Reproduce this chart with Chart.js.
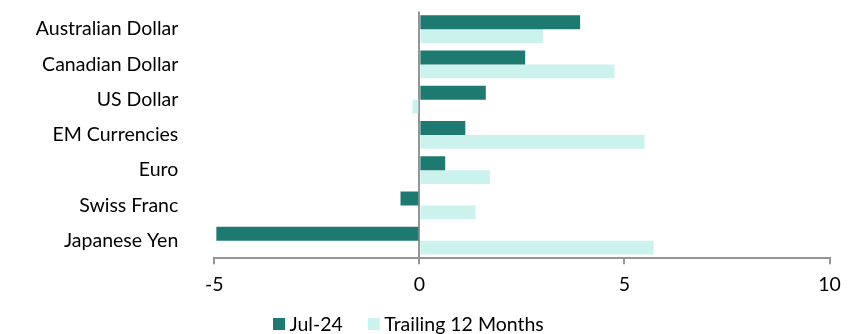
<!DOCTYPE html>
<html>
<head>
<meta charset="utf-8">
<script src="https://cdn.jsdelivr.net/npm/chart.js@4/dist/chart.umd.min.js"></script>
<style>
  html, body { margin: 0; padding: 0; background: #ffffff; }
  #wrap { width: 852px; height: 334px; position: relative; }
</style>
</head>
<body>
<div id="wrap"><canvas id="chart"></canvas></div>
<script>
// Currency returns (%)
const currencies = ["Australian Dollar", "Canadian Dollar", "US Dollar", "EM Currencies", "Euro", "Swiss Franc", "Japanese Yen"];
const monthReturns = [3.92, 2.58, 1.62, 1.12, 0.63, -0.46, -4.95];
const trailing12Returns = [3.01, 4.76, -0.17, 5.49, 1.72, 1.37, 5.71];
const xTicks = [-5, 0, 5, 10];

const FONT = "Lato, 'Open Sans', sans-serif";
const FONT_SIZE = 19.5;
const AXIS_GREY = "#959595";

// Compact legend below the axis: square swatch, tight gap, label text
const bottomLegend = {
  id: "bottomLegend",
  afterDraw(chart) {
    const ctx = chart.ctx;
    const box = 12, gap = 4.5, spacing = 25;
    const cy = 324;
    let x = 273;
    ctx.save();
    ctx.font = FONT_SIZE + "px " + FONT;
    ctx.textBaseline = "middle";
    ctx.textAlign = "left";
    chart.data.datasets.forEach((ds) => {
      ctx.fillStyle = ds.backgroundColor;
      ctx.fillRect(x, cy - box / 2, box, box);
      x += box + gap;
      ctx.fillStyle = "#000";
      ctx.fillText(ds.label, x, cy + 1);
      x += ctx.measureText(ds.label).width + spacing;
    });
    ctx.restore();
  }
};

new Chart(document.getElementById("chart"), {
  type: "bar",
  data: {
    labels: currencies,
    datasets: [
      { label: "Jul-24", data: monthReturns, backgroundColor: "#1e7a70",
        categoryPercentage: 0.79, barPercentage: 1.0 },
      { label: "Trailing 12 Months", data: trailing12Returns, backgroundColor: "#ccf2ee",
        categoryPercentage: 0.79, barPercentage: 1.0 }
    ]
  },
  plugins: [bottomLegend],
  options: {
    indexAxis: "y",
    responsive: true,
    maintainAspectRatio: false,
    animation: false,
    layout: { padding: { top: 11.5, right: 22.5, bottom: 0, left: 0 } },
    plugins: {
      tooltip: { enabled: false },
      legend: { display: false }
    },
    scales: {
      x: {
        min: -5,
        max: 10,
        z: 1,
        afterBuildTicks: (scale) => { scale.ticks = xTicks.map(v => ({ value: v })); },
        afterFit: (scale) => { scale.height = 75.7; },
        ticks: { font: { family: FONT, size: FONT_SIZE }, color: "#000", padding: 9 },
        grid: {
          color: (ctx) => (ctx.tick && ctx.tick.value === 0) ? AXIS_GREY : "rgba(0,0,0,0)",
          lineWidth: 2,
          tickColor: AXIS_GREY,
          tickLength: 6
        },
        border: { display: true, color: AXIS_GREY, width: 2 }
      },
      y: {
        afterFit: (scale) => {
          scale.width = 214.3;
          scale.paddingTop = 0;
          scale.paddingBottom = 0;
        },
        ticks: { font: { family: FONT, size: FONT_SIZE }, color: "#000", padding: 36 },
        grid: { display: false, drawTicks: false },
        border: { display: false }
      }
    }
  }
});
</script>
</body>
</html>
